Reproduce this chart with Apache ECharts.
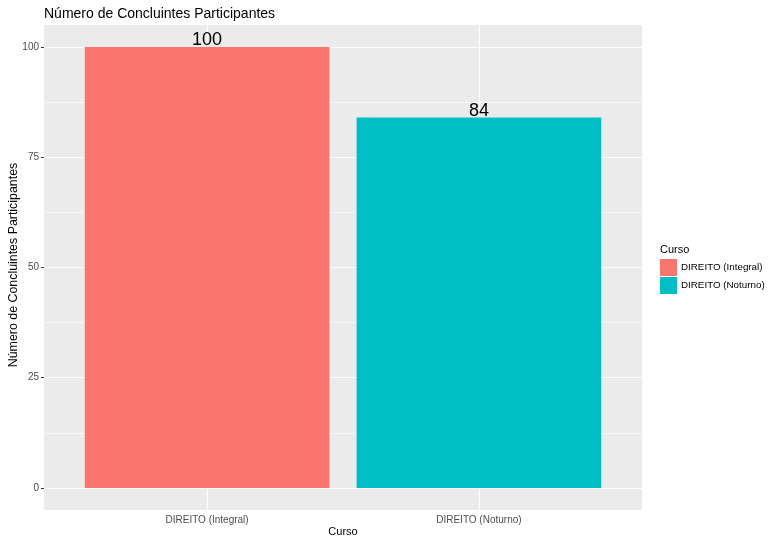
<!DOCTYPE html>
<html><head><meta charset="utf-8">
<script src="https://cdn.jsdelivr.net/npm/echarts@6/dist/echarts.min.js"></script>
<style>html,body{margin:0;padding:0;background:#fff}#c{width:769px;height:537px}</style>
</head><body><div id="c"></div>
<script>
const categories = ['DIREITO (Integral)', 'DIREITO (Noturno)'];
const values = [100, 84];
const colors = ['#F8766D', '#00BFC4'];
const yTicks = [0, 25, 50, 75, 100];
const yMinor = [12.5, 37.5, 62.5, 87.5];
const chartTitle = 'Número de Concluintes Participantes';
const xTitle = 'Curso';
const yTitle = 'Número de Concluintes Participantes';
const legendTitle = 'Curso';

const FONT = '"Liberation Sans", Arial, sans-serif';
const chart = echarts.init(document.getElementById('c'), null, {renderer: 'canvas'});

function renderBar(params, api) {
  const x = api.value(0), y = api.value(1);
  const p0 = api.coord([x - 0.45, y]);
  const p1 = api.coord([x + 0.45, 0]);
  return {
    type: 'group',
    children: [
      {type: 'rect', shape: {x: p0[0], y: p0[1], width: p1[0] - p0[0], height: p1[1] - p0[1]},
       style: {fill: api.visual('color')}},
      {type: 'text', x: (p0[0] + p1[0]) / 2, y: p0[1] + 2,
       style: {text: String(y), fill: '#000', font: '18px ' + FONT, align: 'center', verticalAlign: 'bottom'}}
    ]
  };
}

const barSeries = categories.map((c, i) => ({
  type: 'custom', name: c, z: 5,
  itemStyle: {color: colors[i]},
  renderItem: renderBar,
  data: [[i + 1, values[i]]],
  encode: {x: 0, y: 1}
}));

const gridSeries = {
  type: 'line', data: [], z: 1, silent: true,
  markLine: {
    silent: true, symbol: 'none', label: {show: false}, animation: false,
    data: [
      ...yMinor.map(v => ({yAxis: v, lineStyle: {color: '#fff', width: 0.6, type: 'solid'}})),
      ...yTicks.map(v => ({yAxis: v, lineStyle: {color: '#fff', width: 1.1, type: 'solid'}})),
      ...categories.map((c, i) => ({xAxis: i + 1, lineStyle: {color: '#fff', width: 1.1, type: 'solid'}}))
    ]
  }
};

chart.setOption({
  animation: false,
  textStyle: {fontFamily: FONT},
  title: [
    {text: chartTitle, left: 44, top: 7, padding: 0, textStyle: {fontSize: 14, fontWeight: 'normal', color: '#000', fontFamily: FONT}},
    {text: legendTitle, left: 660, top: 244, padding: 0, textStyle: {fontSize: 11, fontWeight: 'normal', color: '#000', fontFamily: FONT}}
  ],
  legend: {
    orient: 'vertical', left: 660, top: 259, padding: 0, itemWidth: 17, itemHeight: 17, itemGap: 1,
    icon: 'rect', selectedMode: false,
    textStyle: {fontSize: 9.8, color: '#000', fontFamily: FONT, padding: [0, 0, 0, -1]},
    data: categories
  },
  graphic: [
    {type: 'text', x: 343, y: 532, style: {text: xTitle, font: '11px ' + FONT, fill: '#000', align: 'center', verticalAlign: 'middle'}},
    {type: 'text', x: 14, y: 265, rotation: Math.PI / 2, style: {text: yTitle, font: '12.4px ' + FONT, fill: '#000', align: 'center', verticalAlign: 'middle'}}
  ],
  grid: {left: 44, right: 127, top: 25, bottom: 27, outerBoundsMode: 'none', containLabel: false,
    backgroundColor: '#EBEBEB', show: true, borderWidth: 0},
  xAxis: {
    type: 'value', min: 0.4, max: 2.6,
    axisLine: {show: false},
    splitLine: {show: false},
    axisTick: {show: true, length: 3, customValues: [1, 2], lineStyle: {color: '#333', width: 1}},
    axisLabel: {customValues: [1, 2], fontSize: 10, color: '#4D4D4D', margin: 5,
      formatter: v => categories[Math.round(v) - 1] || ''}
  },
  yAxis: {
    type: 'value', min: -5, max: 105,
    axisLine: {show: false},
    splitLine: {show: false},
    axisTick: {show: true, length: 3, customValues: yTicks, lineStyle: {color: '#333', width: 1}},
    axisLabel: {customValues: yTicks, fontSize: 10, color: '#4D4D4D', margin: 5}
  },
  series: [gridSeries, ...barSeries]
});
</script></body></html>
